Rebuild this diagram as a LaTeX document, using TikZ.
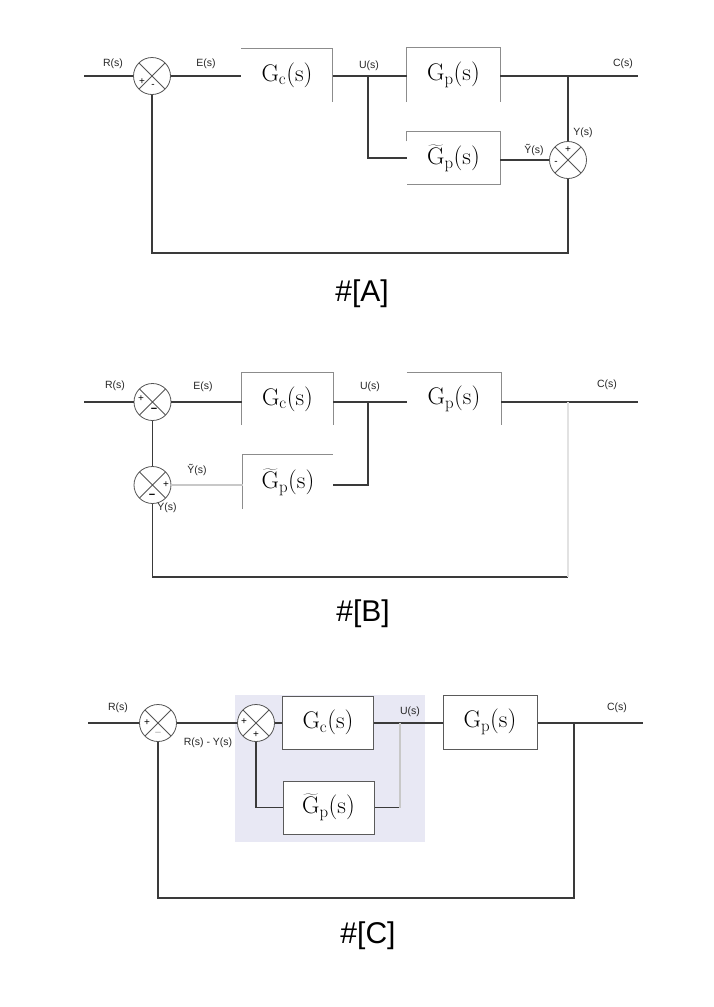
\documentclass[tikz,border=0pt]{standalone}
\usepackage{fontspec}
\newfontfamily\labfont{Liberation Sans}
\definecolor{wirec}{HTML}{3A3A3A}
\definecolor{edgec}{HTML}{8C8C8C}
\definecolor{edgedark}{HTML}{5A5A5A}
\definecolor{sumc}{HTML}{555555}
\definecolor{faintc}{HTML}{C8C8C8}
\definecolor{ghostc}{HTML}{E2E2E2}
\definecolor{shadec}{HTML}{E8E8F4}
\begin{document}
\begin{tikzpicture}[x=1pt,y=-1pt,
  wire/.style={draw=wirec,line width=1.1pt},
  faintwire/.style={draw=faintc,line width=1.1pt},
  ghostwire/.style={draw=ghostc,line width=1.1pt},
  edge/.style={draw=edgec,line width=1pt},
  sumj/.style={circle,draw=sumc,line width=0.8pt,minimum size=37pt,inner sep=0pt,fill=white,
    path picture={\draw[sumc,line width=0.8pt]
      (path picture bounding box.center) +(-13.1pt,13.1pt) -- +(13.1pt,-13.1pt)
      (path picture bounding box.center) +(-13.1pt,-13.1pt) -- +(13.1pt,13.1pt);}},
  blk/.style={rectangle,inner sep=0pt,minimum width=91pt,minimum height=53pt,
    font=\fontsize{24}{28}\selectfont},
  blkC/.style={blk,draw=edgedark,line width=1pt,fill=white},
  lab/.style={font=\labfont\fontsize{10.5}{12}\selectfont,inner sep=0pt,text=black!85},
  sgn/.style={font=\labfont\fontsize{10}{10}\selectfont,inner sep=0pt},
  tag/.style={font=\labfont\fontsize{30}{33}\selectfont,inner sep=0pt}
]
\useasboundingbox (0,0) rectangle (713,1007);

% ---------------- scheme A ----------------
\node[sumj] (sA1) at (152,76) {};
\node[sumj] (sA2) at (568,160) {};
\node[blk] (gcA) at (287,75) {$\mathrm{G_c(s)}$};
\node[blk,minimum width=93pt,minimum height=54pt] (gpA) at (453.5,75) {$\mathrm{G_p(s)}$};
\node[blk,minimum width=93pt] (gtA) at (453.5,158) {$\widetilde{\mathrm{G}}_{\mathrm{p}}\mathrm{(s)}$};
\coordinate (inA) at (84,76);
\coordinate (outA) at (638,76);
\coordinate (uA) at (368,76);
\coordinate (cA) at (568,76);
\coordinate (fbA) at (568,253);

\draw[edge] (gcA.north west) -- (gcA.north east) -- (gcA.south east);
\draw[edge] (gpA.south west) -- (gpA.north west) -- (gpA.north east) -- (gpA.south east);
\draw[edge] ([yshift=-10pt]gtA.north west) -- (gtA.north west) -- (gtA.north east)
  -- (gtA.south east) -- (gtA.south west);

\draw[wire] (inA) -- (sA1.west);
\draw[wire] (sA1.east) -- (gcA.west |- sA1.east);
\draw[wire] (gcA.east |- uA) -- (gpA.west |- uA);
\draw[wire] (uA) |- (gtA.west);
\draw[wire] (gpA.east |- cA) -- (outA);
\draw[wire] (cA) -- (sA2.north);
\draw[wire] (gtA.east |- sA2.west) -- (sA2.west);
\draw[wire] (sA2.south) -- (fbA) -| (sA1.south);

\node[lab] (lRA) at (113,64) {R(s)};
\node[lab] (lEA) at (206,64) {E(s)};
\node[lab] (lUA) at (369,66) {U(s)};
\node[lab] (lCA) at (623,64) {C(s)};
\node[lab] (lYA) at (583,133) {Y(s)};
\node[lab] (lYtA) at (534,150) {Ỹ(s)};
\node[sgn] (pA1) at (142,82) {+};
\node[sgn] (mA1) at (153,86) {-};
\node[sgn] (pA2) at (568,150) {+};
\node[sgn] (mA2) at (556,163) {-};
\node[tag] (tA) at (362,294) {\#[A]};

% ---------------- scheme B ----------------
\node[sumj] (sB1) at (152.5,402) {};
\node[sumj] (sB2) at (152.5,485) {};
\node[blk,minimum height=52pt] (gcB) at (287.5,399) {$\mathrm{G_c(s)}$};
\node[blk,minimum width=94pt,minimum height=52pt] (gpB) at (454,399) {$\mathrm{G_p(s)}$};
\node[blk,minimum width=90pt,minimum height=54pt] (gtB) at (288,482) {$\widetilde{\mathrm{G}}_{\mathrm{p}}\mathrm{(s)}$};
\coordinate (inB) at (84,402);
\coordinate (outB) at (638,402);
\coordinate (uB) at (368,402);
\coordinate (cB) at (568,402);
\coordinate (fbB) at (568,577);

\draw[edge] (gcB.south west) -- (gcB.north west) -- (gcB.north east) -- (gcB.south east);
\draw[edge] (gpB.north west) -- (gpB.north east) -- (gpB.south east);
\draw[edge] (gtB.south west) -- (gtB.north west) -- (gtB.north east);

\draw[wire] (inB) -- (sB1.west);
\draw[wire] (sB1.east) -- (gcB.west |- sB1.east);
\draw[wire] (gcB.east |- uB) -- (gpB.west |- uB);
\draw[wire] (gpB.east |- uB) -- (outB);
\draw[wire] (uB) |- (gtB.east |- sB2.east);
\draw[faintwire] (sB2.east) -- (gtB.west |- sB2.east);
\draw[wire] (sB1.south) -- (sB2.north);
\draw[wire] (sB2.south) |- (fbB);
\draw[ghostwire] (cB) -- (fbB);

\node[lab] (lRB) at (115,386) {R(s)};
\node[lab] (lEB) at (203,387) {E(s)};
\node[lab] (lUB) at (370,387) {U(s)};
\node[lab] (lCB) at (607,385) {C(s)};
\node[lab] (lYtB) at (197,470) {Ỹ(s)};
\node[lab] (lYB) at (167,508) {Y(s)};
\node[sgn] (pB1) at (141,399) {+};
\node[sgn,font=\labfont\bfseries\fontsize{11}{11}\selectfont] (mB1) at (154,410) {−};
\node[sgn] (pB2) at (166,485) {+};
\node[sgn,font=\labfont\bfseries\fontsize{11}{11}\selectfont] (mB2) at (152,496) {−};
\node[tag] (tB) at (363,614) {\#[B]};

% ---------------- scheme C ----------------
\fill[shadec] (235,695) rectangle (425,842);
\node[sumj] (sC1) at (158,723) {};
\node[sumj] (sC2) at (256,723) {};
\node[blkC] (gcC) at (328,722.5) {$\mathrm{G_c(s)}$};
\node[blkC] (gtC) at (328.5,807.5) {$\widetilde{\mathrm{G}}_{\mathrm{p}}\mathrm{(s)}$};
\node[blkC,minimum width=94pt,minimum height=54pt] (gpC) at (490,722) {$\mathrm{G_p(s)}$};
\coordinate (inC) at (88,723);
\coordinate (outC) at (643,723);
\coordinate (uC) at (400,723);
\coordinate (cC) at (574,723);
\coordinate (fbC) at (574,898);

\draw[wire] (inC) -- (sC1.west);
\draw[wire] (sC1.east) -- (sC2.west);
\draw[wire] (sC2.east) -- (gcC.west |- sC2.east);
\draw[wire] (gcC.east |- uC) -- (gpC.west |- uC);
\draw[wire] (gpC.east |- uC) -- (outC);
\draw[wire] (cC) -- (fbC) -| (sC1.south);
\draw[wire] (sC2.south) |- (gtC.west);
\draw[wire] (gtC.east) -- (uC |- gtC.east);
\draw[faintwire] (uC |- gtC.east) -- (uC);

\node[lab] (lRC) at (118,708) {R(s)};
\node[lab] (lRYC) at (208,743) {R(s) - Y(s)};
\node[lab] (lUC) at (410,712) {U(s)};
\node[lab] (lCC) at (617,708) {C(s)};
\node[sgn] (pC1) at (147,723) {+};
\node[sgn,text=faintc,font=\labfont\bfseries\fontsize{11}{11}\selectfont] (mC1) at (158,734) {−};
\node[sgn] (pC2) at (244,722) {+};
\node[sgn] (pC3) at (256,735) {+};
\node[tag] (tC) at (368,936) {\#[C]};
\end{tikzpicture}
\end{document}
